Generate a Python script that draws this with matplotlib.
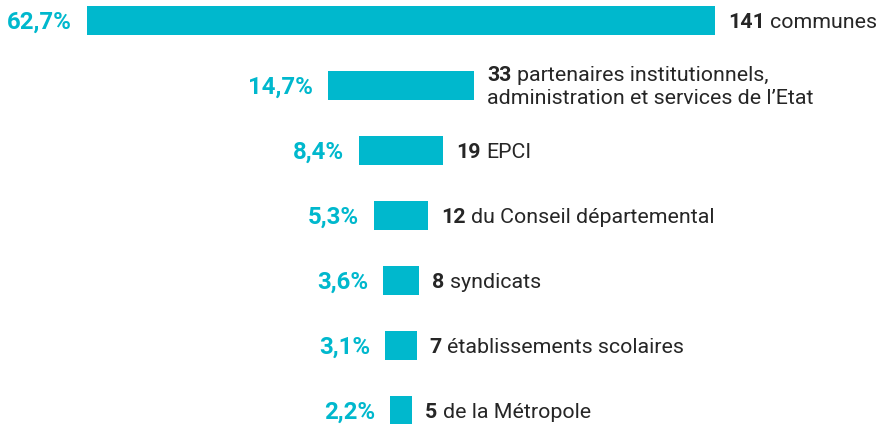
import matplotlib

matplotlib.use("Agg")

import matplotlib.pyplot as plt

counts = [141, 33, 19, 12, 8, 7, 5]
shares = ["62,7%", "14,7%", "8,4%", "5,3%", "3,6%", "3,1%", "2,2%"]
labels = [
    "communes",
    "partenaires institutionnels,\nadministration et services de l\u2019Etat",
    "EPCI",
    "du Conseil départemental",
    "syndicats",
    "établissements scolaires",
    "de la Métropole",
]

CYAN = "#00b8cd"
DARK = "#262626"
PX = 72 / 100  # points per pixel at dpi 100

plt.rcParams["font.family"] = ["Roboto", "DejaVu Sans"]

fig = plt.figure(figsize=(8.88, 4.24), dpi=100)
ax = fig.add_axes([0, 0, 1, 1])

rows = list(range(len(counts)))
lefts = [-c / 2 for c in counts]
ax.barh(rows, counts, left=lefts, height=0.446, color=CYAN)

pct_size = 17.3
lab_size = 15.4
for i, (c, pct, lab) in enumerate(zip(counts, shares, labels)):
    ax.annotate(pct, xy=(-c / 2, i), xytext=(-15 * PX, -0.355 * pct_size),
                textcoords="offset points", ha="right", va="baseline",
                fontsize=pct_size, fontweight="bold", color=CYAN)

    lines = lab.split("\n")
    # baseline shift so the text block is centred on the bar
    if len(lines) == 1:
        dy = -0.355 * lab_size
    else:
        dy = 4.5 * PX
    num = ax.annotate(str(c), xy=(c / 2, i), xytext=(13 * PX, dy),
                      textcoords="offset points", ha="left", va="baseline",
                      fontsize=lab_size, fontweight="bold", color=DARK)
    ax.annotate(lines[0], xy=(1, 0), xycoords=num, xytext=(4, 0),
                textcoords="offset points", ha="left", va="bottom",
                fontsize=lab_size, color=DARK)
    for k, extra in enumerate(lines[1:], start=1):
        ax.annotate(extra, xy=(0, 0), xycoords=num, xytext=(0, -23 * PX * k),
                    textcoords="offset points", ha="left", va="bottom",
                    fontsize=lab_size, color=DARK)

scale = 628 / 141  # pixels per unit
ax.set_xlim(-401 / scale, (888 - 401) / scale)
ax.set_ylim((424 - 20.5) / 65, -20.5 / 65)
ax.axis("off")

fig.savefig("out.png", dpi=100)
